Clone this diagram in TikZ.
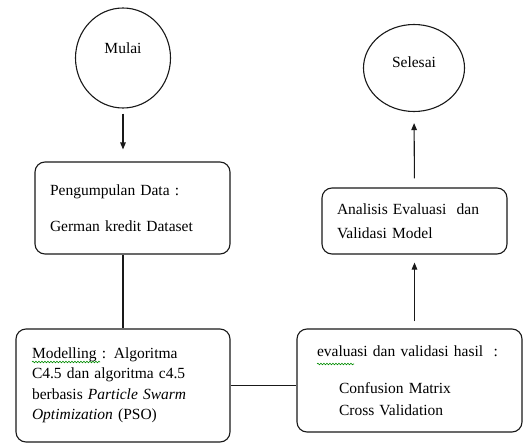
\documentclass[tikz,border=0pt]{standalone}
\usepackage{fontspec}
\setmainfont{Liberation Serif}
\usetikzlibrary{shapes.geometric,arrows.meta,decorations.pathmorphing}

\tikzset{
  kotak/.style={draw, rounded corners=10pt, align=left, inner ysep=0pt},
  bulat/.style={draw, ellipse, inner sep=0pt},
  panah/.style={-{Triangle[length=7pt,width=5.5pt]}},
  salah/.style={draw=green!55!black, line width=0.6pt, decorate,
    decoration={snake, amplitude=0.8pt, segment length=3pt}}
}

\begin{document}
\begin{tikzpicture}[x=1pt, y=-1pt, line width=1.1pt, draw=black!90, text=black,
  every node/.append style={font=\fontsize{15.5}{20.5}\selectfont}]
\useasboundingbox (0,0) rectangle (524,444);

% awal dan akhir
\node[bulat, minimum width=95pt, minimum height=100pt,
  label={[yshift=10pt]center:Mulai}] (mulai) at (123,58) {};
\node[bulat, minimum width=101pt, minimum height=87pt,
  label={[yshift=6pt]center:Selesai}] (selesai) at (414,68) {};

% proses
\node[kotak, inner xsep=15pt, text width=165pt, minimum height=92pt] (data) at (132.5,208)
  {Pengumpulan Data :\\[16pt] German kredit Dataset};
\node[kotak, inner xsep=16pt, text width=182pt, minimum height=113pt] (model) at (123,385.5)
  {Modelling : Algoritma\\ C4.5 dan algoritma c4.5\\ berbasis \textit{Particle Swarm}\\ \textit{Optimization} (PSO)};
\node[kotak, inner xsep=20pt, text width=185pt, minimum height=103pt] (evaluasi) at (409.5,380.5)
  {evaluasi dan validasi hasil \ :\\[16pt] \hspace*{22pt}Confusion Matrix\\[1.5pt] \hspace*{22pt}Cross Validation};
\node[kotak, inner xsep=15pt, text width=155pt, minimum height=66pt] (analisis) at (414.5,221)
  {Analisis Evaluasi \ dan\\[3pt] Validasi Model};

% garis tanda ejaan
\draw[salah] (32,362) -- (100,362);
\draw[salah] (317,364) -- (354,364);

% alur
\draw[panah, shorten <=5pt, shorten >=12pt] (mulai.south) -- (mulai.south |- data.north);
\draw (data.south -| mulai.south) -- (model.north -| mulai.south);
\draw (model.east) -- (model.east -| evaluasi.west);
\draw[panah, shorten <=7pt, shorten >=8pt] (analisis.south |- evaluasi.north) -- (analisis.south);
\draw[panah, shorten <=9pt, shorten >=11pt] (analisis.north) -- (selesai.south);

\end{tikzpicture}
\end{document}
